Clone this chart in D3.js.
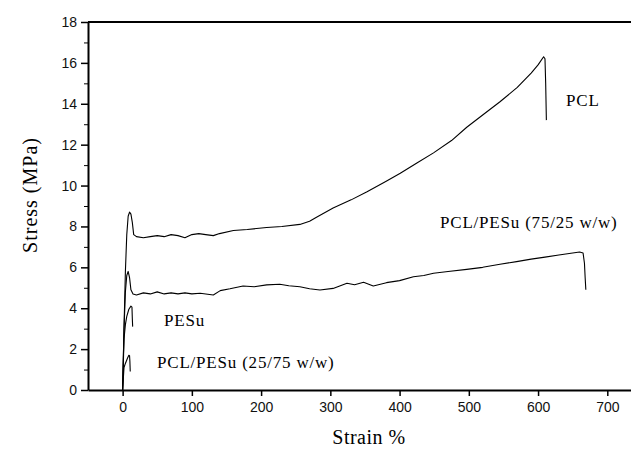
<!DOCTYPE html>
<html>
<head>
<meta charset="utf-8">
<script src="https://cdn.jsdelivr.net/npm/d3@7"></script>
<style>
  body { margin: 0; background: #fff; }
  svg { display: block; }
</style>
</head>
<body>
<svg id="chart"></svg>
<script>
// strain (%) / stress (MPa) pairs
const pcl = [
  [0, 0], [2, 3], [4, 5.8], [6, 7.6], [8, 8.5], [10, 8.7], [12, 8.6], [14, 8.2], [16, 7.6],
  [20, 7.5], [30, 7.45], [40, 7.5], [50, 7.55], [60, 7.5], [70, 7.6], [80, 7.55], [90, 7.45],
  [100, 7.6], [110, 7.65], [120, 7.6], [131, 7.55], [140, 7.65], [160, 7.8], [180, 7.85],
  [208, 7.95], [230, 8.0], [256, 8.1], [270, 8.25], [280, 8.45], [304, 8.9], [330, 9.3],
  [353, 9.7], [380, 10.2], [401, 10.6], [425, 11.1], [449, 11.6], [475, 12.2], [497, 12.85],
  [520, 13.45], [545, 14.1], [570, 14.8], [590, 15.5], [600, 15.9], [608, 16.3], [610, 16.2],
  [611, 15.0], [612, 13.2]
];
const blend7525 = [
  [0, 0], [2, 3], [4, 4.8], [6, 5.6], [8, 5.8], [10, 5.5], [12, 4.9], [15, 4.7],
  [20, 4.65], [30, 4.75], [40, 4.7], [50, 4.8], [60, 4.7], [70, 4.75], [80, 4.7], [90, 4.75],
  [100, 4.7], [112, 4.73], [131, 4.65], [141, 4.86], [155, 4.95], [174, 5.09], [190, 5.05],
  [208, 5.14], [227, 5.17], [240, 5.1], [256, 5.05], [270, 4.95], [285, 4.89], [304, 4.97],
  [324, 5.22], [335, 5.15], [348, 5.27], [362, 5.09], [381, 5.25], [400, 5.35], [420, 5.54],
  [435, 5.6], [449, 5.71], [470, 5.8], [497, 5.9], [520, 6.0], [545, 6.15], [569, 6.28],
  [590, 6.4], [610, 6.5], [630, 6.6], [650, 6.7], [660, 6.75], [665, 6.7], [667, 6.2],
  [668, 5.5], [669, 4.9]
];
const pesu = [
  [0, 0], [2, 2.5], [4, 3.2], [6, 3.6], [9, 3.95], [12, 4.1], [13.5, 4.05], [14, 3.5], [14.5, 3.1]
];
const blend2575 = [
  [0, 0], [2, 1.1], [4, 1.3], [7, 1.55], [9, 1.7], [10, 1.68], [10.5, 1.4], [11, 0.9]
];

const xTicks = [0, 100, 200, 300, 400, 500, 600, 700];
const yTicks = [0, 2, 4, 6, 8, 10, 12, 14, 16, 18];
const yMinor = [1, 3, 5, 7, 9, 11, 13, 15, 17];

const labels = [
  { text: "PCL", x: 566, y: 100 },
  { text: "PCL/PESu (75/25 w/w)", x: 440, y: 222 },
  { text: "PESu", x: 164, y: 320 },
  { text: "PCL/PESu (25/75 w/w)", x: 157, y: 362 }
];

const width = 631, height = 449;
const margin = { top: 22, right: -4, bottom: 59, left: 88 };

const svg = d3.select("#chart")
  .attr("width", width)
  .attr("height", height);

const x = d3.scaleLinear()
  .domain([-50, 740])
  .range([margin.left, width - margin.right]);

const y = d3.scaleLinear()
  .domain([0, 18])
  .range([height - margin.bottom, margin.top]);

// frame top line
svg.append("line")
  .attr("x1", margin.left).attr("x2", width)
  .attr("y1", y(18)).attr("y2", y(18))
  .attr("stroke", "#000").attr("stroke-width", 2);

const xAxis = svg.append("g")
  .attr("transform", `translate(0,${y(0)})`)
  .call(d3.axisBottom(x).tickValues(xTicks).tickSize(6).tickSizeOuter(0).tickPadding(6));

const yAxis = svg.append("g")
  .attr("transform", `translate(${margin.left},0)`)
  .call(d3.axisLeft(y).tickValues(yTicks).tickSize(7).tickSizeOuter(0).tickPadding(4));

svg.append("g")
  .attr("transform", `translate(${margin.left},0)`)
  .call(d3.axisLeft(y).tickValues(yMinor).tickSize(4).tickFormat(""))
  .call(g => g.select(".domain").remove());

[xAxis, yAxis].forEach(g => {
  g.select(".domain").attr("stroke-width", 2);
  g.selectAll(".tick line").attr("stroke-width", 1.5);
  g.selectAll("text")
    .style("font-family", "'Liberation Sans', Arial, sans-serif")
    .style("font-size", "14px")
    .attr("fill", "#111");
});

const line = d3.line()
  .x(d => x(d[0]))
  .y(d => y(d[1]));

[pcl, blend7525, pesu, blend2575].forEach(series => {
  svg.append("path")
    .datum(series)
    .attr("fill", "none")
    .attr("stroke", "#000")
    .attr("stroke-width", 1.1)
    .attr("stroke-linejoin", "round")
    .attr("d", line);
});

svg.selectAll(".note")
  .data(labels)
  .enter()
  .append("text")
  .attr("class", "note")
  .attr("x", d => d.x)
  .attr("y", d => d.y)
  .attr("dy", "0.35em")
  .style("font-family", "'Liberation Serif', 'Times New Roman', serif")
  .style("font-size", "17px")
  .style("letter-spacing", "0.8px")
  .text(d => d.text);

svg.append("text")
  .attr("x", 369)
  .attr("y", 437)
  .attr("dy", "0.35em")
  .attr("text-anchor", "middle")
  .style("font-family", "'Liberation Serif', 'Times New Roman', serif")
  .style("font-size", "20px")
  .style("letter-spacing", "0.5px")
  .text("Strain %");

svg.append("text")
  .attr("transform", "translate(30,195) rotate(-90)")
  .attr("dy", "0.35em")
  .attr("text-anchor", "middle")
  .style("font-family", "'Liberation Serif', 'Times New Roman', serif")
  .style("font-size", "20px")
  .style("letter-spacing", "1px")
  .text("Stress (MPa)");
</script>
</body>
</html>
